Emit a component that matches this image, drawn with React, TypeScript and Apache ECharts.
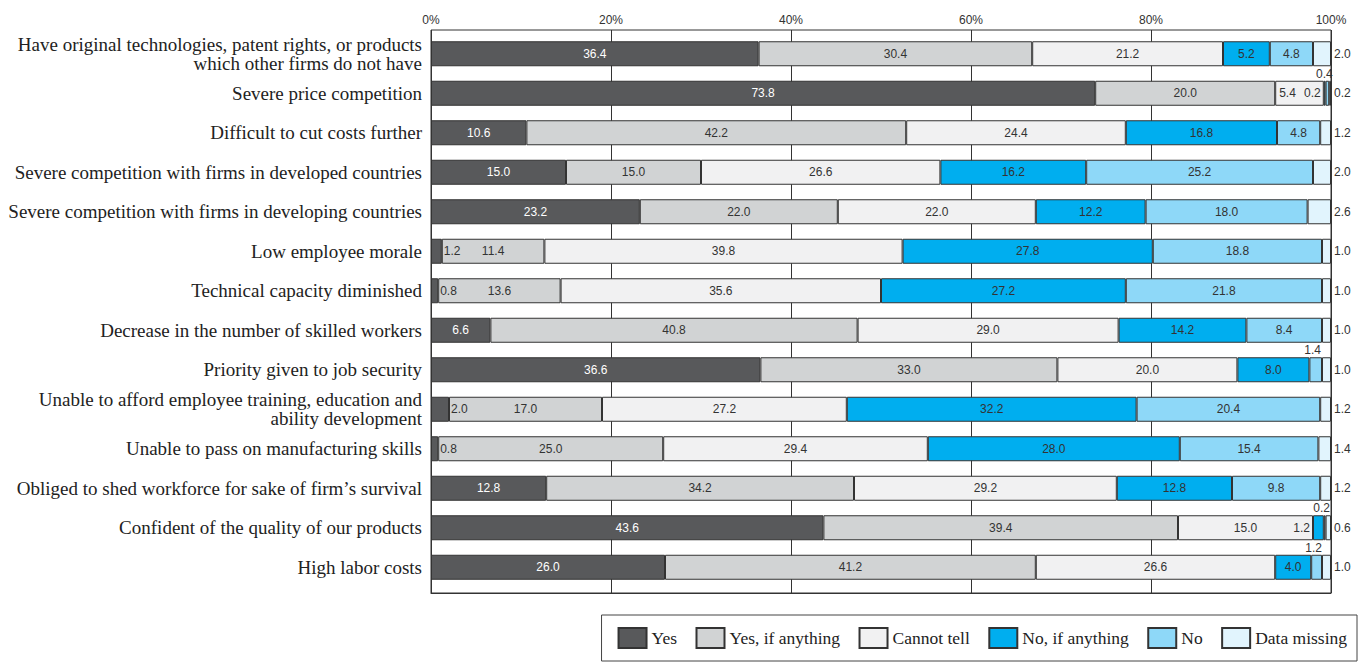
import React, { useEffect, useRef } from "react";
import * as echarts from "echarts";

const categories = [
  "Have original technologies, patent rights, or products\nwhich other firms do not have",
  "Severe price competition",
  "Difficult to cut costs further",
  "Severe competition with firms in developed countries",
  "Severe competition with firms in developing countries",
  "Low employee morale",
  "Technical capacity diminished",
  "Decrease in the number of skilled workers",
  "Priority given to job security",
  "Unable to afford employee training, education and\nability development",
  "Unable to pass on manufacturing skills",
  "Obliged to shed workforce for sake of firm\u2019s survival",
  "Confident of the quality of our products",
  "High labor costs",
];

const yes = [36.4, 73.8, 10.6, 15.0, 23.2, 1.2, 0.8, 6.6, 36.6, 2.0, 0.8, 12.8, 43.6, 26.0];
const yesIfAnything = [30.4, 20.0, 42.2, 15.0, 22.0, 11.4, 13.6, 40.8, 33.0, 17.0, 25.0, 34.2, 39.4, 41.2];
const cannotTell = [21.2, 5.4, 24.4, 26.6, 22.0, 39.8, 35.6, 29.0, 20.0, 27.2, 29.4, 29.2, 15.0, 26.6];
const noIfAnything = [5.2, 0.2, 16.8, 16.2, 12.2, 27.8, 27.2, 14.2, 8.0, 32.2, 28.0, 12.8, 1.2, 4.0];
const no = [4.8, 0.4, 4.8, 25.2, 18.0, 18.8, 21.8, 8.4, 1.4, 20.4, 15.4, 9.8, 0.2, 1.2];
const dataMissing = [2.0, 0.2, 1.2, 2.0, 2.6, 1.0, 1.0, 1.0, 1.0, 1.2, 1.4, 1.2, 0.6, 1.0];

const seriesNames = ["Yes", "Yes, if anything", "Cannot tell", "No, if anything", "No", "Data missing"];
const seriesColors = ["#58595B", "#D1D3D4", "#F1F1F2", "#00AEEF", "#8ED8F8", "#E1F4FD"];
const axisTicks = [0, 20, 40, 60, 80, 100];

const SANS = "Liberation Sans, Arial, sans-serif";
const SERIF = "Liberation Serif, Times New Roman, serif";

function labelFor(seriesIdx: number, v: number): any {
  const base = { show: true, fontSize: 12, fontFamily: SANS, color: "#333", formatter: () => v.toFixed(1) };
  switch (seriesIdx) {
    case 0:
      return v < 3
        ? { ...base, position: "right", distance: 2 }
        : { ...base, position: "inside", color: "#fff" };
    case 1:
      return { ...base, position: "inside" };
    case 2:
      return v < 8 ? { ...base, position: "insideLeft", distance: 4 } : { ...base, position: "inside" };
    case 3:
      return v < 3 ? { ...base, position: "left", distance: 3 } : { ...base, position: "inside" };
    case 4:
      return v < 3 ? { ...base, position: "top", distance: 1, offset: [-3, 0] } : { ...base, position: "inside" };
    default:
      return { ...base, position: "right", distance: 3 };
  }
}

export default function App() {
  const ref = useRef<HTMLDivElement>(null);
  useEffect(() => {
    if (!ref.current) return;
    const chart = echarts.init(ref.current, null, { renderer: "svg" });
    const allData = [yes, yesIfAnything, cannotTell, noIfAnything, no, dataMissing];
    const series = allData.map((arr, si) => ({
      name: seriesNames[si],
      type: "bar",
      stack: "total",
      xAxisIndex: 1,
      yAxisIndex: 1,
      barWidth: 25,
      itemStyle: { color: seriesColors[si], borderColor: "#333", borderWidth: 1 },
      data: arr.map((v) => ({ value: v, label: labelFor(si, v) })),
    }));
    chart.setOption({
      animation: false,
      backgroundColor: "#fff",
      grid: [
        { left: 431, right: 36, top: 30, bottom: 71, show: true, borderColor: "#333", borderWidth: 1, backgroundColor: "transparent" },
        { left: 431, right: 36, top: 34, bottom: 77 },
      ],
      xAxis: [
        {
          type: "value",
          gridIndex: 0,
          position: "top",
          min: axisTicks[0],
          max: axisTicks[axisTicks.length - 1],
          interval: axisTicks[1] - axisTicks[0],
          axisLine: { show: true, lineStyle: { color: "#333" } },
          axisTick: { show: false },
          axisLabel: { formatter: "{value}%", fontSize: 12, fontFamily: SANS, color: "#333", margin: 4 },
          splitLine: { show: true, lineStyle: { color: "#333", width: 1 } },
        },
        { type: "value", gridIndex: 1, min: 0, max: 100, show: false },
      ],
      yAxis: [
        { type: "value", gridIndex: 0, show: false },
        {
          type: "category",
          gridIndex: 1,
          inverse: true,
          data: categories,
          axisLine: { show: false },
          axisTick: { show: false },
          splitLine: { show: false },
          axisLabel: {
            fontSize: 19,
            fontFamily: SERIF,
            color: "#222",
            margin: 9,
            lineHeight: 19,
          },
        },
      ],
      legend: {
        data: seriesNames,
        right: 10,
        bottom: 3,
        orient: "horizontal",
        icon: "rect",
        itemWidth: 28,
        itemHeight: 20,
        itemGap: 18.5,
        padding: [12, 10, 12, 16],
        borderColor: "#444",
        borderWidth: 1,
        textStyle: { fontSize: 17.5, fontFamily: SERIF, color: "#222" },
      },
      series,
    });
    return () => chart.dispose();
  }, []);
  return <div ref={ref} style={{ width: 1367, height: 664, position: "absolute", left: 0, top: 0 }} />;
}
